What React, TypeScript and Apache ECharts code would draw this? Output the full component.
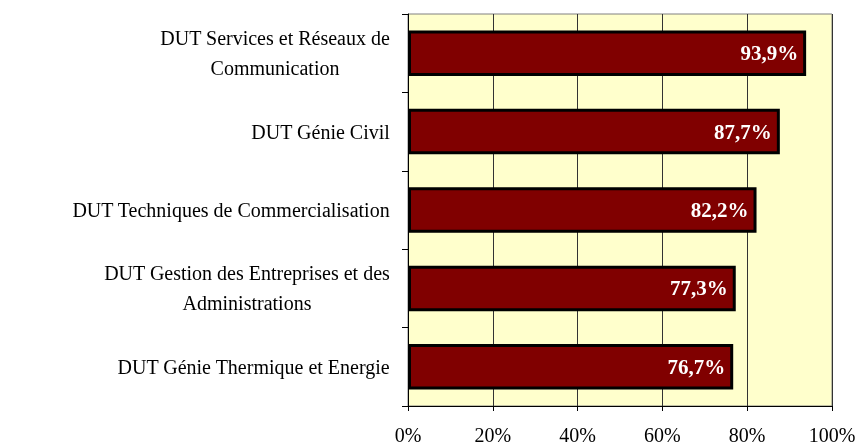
import React, { useEffect, useRef } from "react";
import * as echarts from "echarts";

const categories = [
  "DUT Services et Réseaux de\nCommunication",
  "DUT Génie Civil",
  "DUT Techniques de Commercialisation",
  "DUT Gestion des Entreprises et des\nAdministrations",
  "DUT Génie Thermique et Energie",
];
const values = [93.9, 87.7, 82.2, 77.3, 76.7];
const xTicks = [0, 20, 40, 60, 80, 100];

const FONT = "'Liberation Serif', 'Times New Roman', serif";

export default function App() {
  const ref = useRef<HTMLDivElement>(null);
  useEffect(() => {
    if (!ref.current) return;
    const chart = echarts.init(ref.current, null, { renderer: "svg" });
    chart.setOption({
      animation: false,
      grid: {
        left: 408,
        right: 28,
        top: 14,
        bottom: 39,
        show: true,
        backgroundColor: "#FFFFCC",
        borderColor: "#808080",
        borderWidth: 1,
      },
      xAxis: {
        type: "value",
        min: xTicks[0],
        max: xTicks[xTicks.length - 1],
        interval: 20,
        axisLine: { show: true, lineStyle: { color: "#000", width: 1 } },
        axisTick: { show: true, length: 5, lineStyle: { color: "#000" } },
        splitLine: { show: true, lineStyle: { color: "#333", width: 1 } },
        axisLabel: {
          formatter: "{value}%",
          color: "#000",
          fontFamily: FONT,
          fontSize: 20,
          margin: 19,
        },
      },
      yAxis: {
        type: "category",
        inverse: true,
        data: categories,
        axisLine: { show: true, lineStyle: { color: "#000", width: 1 } },
        axisTick: { show: true, length: 6, lineStyle: { color: "#000" } },
        splitLine: { show: false },
        axisLabel: {
          margin: 18,
          color: "#000",
          fontFamily: FONT,
          fontSize: 20,
          lineHeight: 30,
          formatter: (v: string) =>
            v
              .split("\n")
              .map((l) => `{c|${l}}`)
              .join("\n"),
          rich: {
            c: {
              align: "center",
              color: "#000",
              fontFamily: FONT,
              fontSize: 20,
              lineHeight: 30,
            },
          },
        },
      },
      series: [
        {
          type: "bar",
          data: values,
          barWidth: "58%",
          itemStyle: { color: "#800000", borderColor: "#000", borderWidth: 3 },
          label: {
            show: true,
            position: "insideRight",
            distance: 8,
            color: "#fff",
            fontWeight: "bold",
            fontFamily: FONT,
            fontSize: 21,
            formatter: (p: any) => String(p.value).replace(".", ",") + "%",
          },
        },
      ],
    });
    return () => chart.dispose();
  }, []);
  return (
    <div
      ref={ref}
      style={{ position: "fixed", left: 0, top: 0, width: 860, height: 445 }}
    />
  );
}
